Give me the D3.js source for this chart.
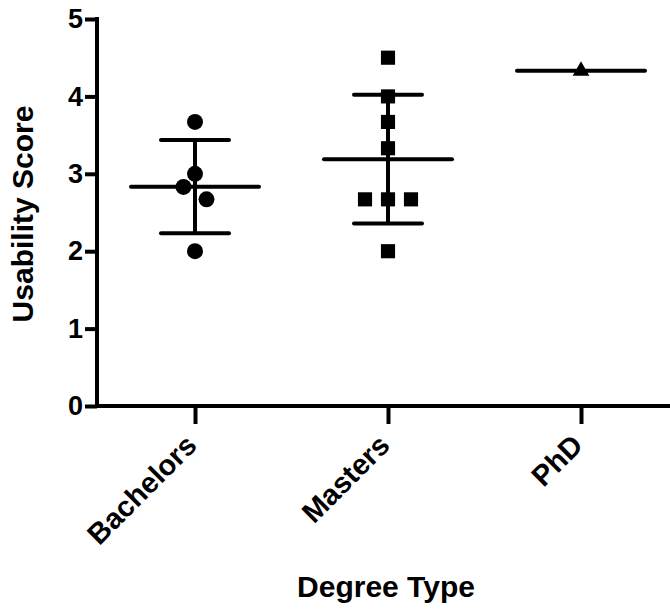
<!DOCTYPE html>
<html>
<head>
<meta charset="utf-8">
<script src="https://cdn.jsdelivr.net/npm/d3@7"></script>
<style>
  body { margin: 0; background: #fff; }
  text { font-family: "Liberation Sans", Arial, sans-serif; font-weight: bold; fill: #000; }
</style>
</head>
<body>
<div id="plot"></div>
<script>
// data
var categories = ["Bachelors", "Masters", "PhD"];
var bachelors = [3.67, 3.0, 2.83, 2.67, 2.0];
var masters = [4.5, 4.0, 3.67, 3.33, 2.67, 2.67, 2.67, 2.0];
var phd = [4.33];
// side-by-side slot of each point (for overlapping values)
var bachelorsSlot = [0, 0, -0.5, 0.5, 0];
var mastersSlot = [0, 0, 0, 0, -1, 0, 1, 0];
var phdSlot = [0];
var yTicks = [0, 1, 2, 3, 4, 5];

var groups = [
  { name: categories[0], values: bachelors, slots: bachelorsSlot, shape: d3.symbolCircle },
  { name: categories[1], values: masters, slots: mastersSlot, shape: d3.symbolSquare },
  { name: categories[2], values: phd, slots: phdSlot, shape: d3.symbolTriangle }
];

var margin = { top: 19, right: 0, bottom: 203, left: 97 };
var width = 670 - margin.left - margin.right,
  height = 609 - margin.top - margin.bottom;

var xScale = d3.scalePoint()
  .domain(categories)
  .range([98, 484]);

var yScale = d3.scaleLinear()
  .domain([0, 5])
  .range([height, 0]);

var svg = d3.select("#plot").append("svg")
  .attr("width", 670)
  .attr("height", 609);

var g = svg.append("g")
  .attr("transform", "translate(" + margin.left + "," + margin.top + ")");

// y axis
var yAxis = g.append("g")
  .call(d3.axisLeft(yScale).tickValues(yTicks).tickSize(12).tickPadding(2).tickFormat(d3.format("d")));
yAxis.select(".domain").remove();
yAxis.selectAll(".tick line").attr("stroke", "#000").attr("stroke-width", 4);
yAxis.selectAll(".tick text").style("font-size", "27px").attr("fill", "#000");
g.append("line")
  .attr("x1", 0).attr("x2", 0)
  .attr("y1", -2).attr("y2", height + 2)
  .attr("stroke", "#000").attr("stroke-width", 4);

// x axis
var xAxis = g.append("g")
  .attr("transform", "translate(0," + height + ")")
  .call(d3.axisBottom(xScale).tickSize(18).tickPadding(0));
xAxis.select(".domain").remove();
xAxis.selectAll(".tick line").attr("stroke", "#000").attr("stroke-width", 4);
xAxis.selectAll(".tick text")
  .style("font-size", "29px")
  .attr("fill", "#000")
  .attr("text-anchor", "end")
  .attr("y", 0)
  .attr("dy", 0)
  .attr("transform", "translate(3,41) rotate(-45)");
g.append("line")
  .attr("x1", -2).attr("x2", width)
  .attr("y1", height).attr("y2", height)
  .attr("stroke", "#000").attr("stroke-width", 4);

// mean and SD bars
var meanHalf = 64, capHalf = 34, slotUnit = 23;

groups.forEach(function (grp) {
  var cx = xScale(grp.name);
  var m = d3.mean(grp.values);
  var sd = grp.values.length > 1 ? d3.deviation(grp.values) : 0;

  if (sd > 0) {
    g.append("line")
      .attr("x1", cx).attr("x2", cx)
      .attr("y1", yScale(m + sd)).attr("y2", yScale(m - sd))
      .attr("stroke", "#000").attr("stroke-width", 4);
    [m + sd, m - sd].forEach(function (v) {
      g.append("line")
        .attr("x1", cx - capHalf).attr("x2", cx + capHalf)
        .attr("y1", yScale(v)).attr("y2", yScale(v))
        .attr("stroke", "#000").attr("stroke-width", 4)
        .attr("stroke-linecap", "round");
    });
  }
  g.append("line")
    .attr("x1", cx - meanHalf).attr("x2", cx + meanHalf)
    .attr("y1", yScale(m)).attr("y2", yScale(m))
    .attr("stroke", "#000").attr("stroke-width", 4)
    .attr("stroke-linecap", "round");

  var sym = d3.symbol().type(grp.shape).size(grp.shape === d3.symbolTriangle ? 120 : 200);
  g.selectAll(null)
    .data(grp.values)
    .enter().append("path")
    .attr("d", sym)
    .attr("fill", "#000")
    .attr("transform", function (d, i) {
      return "translate(" + (cx + grp.slots[i] * slotUnit) + "," + yScale(d) + ")";
    });
});

// axis titles
svg.append("text")
  .attr("transform", "translate(33,214) rotate(-90)")
  .attr("text-anchor", "middle")
  .style("font-size", "30px")
  .text("Usability Score");

svg.append("text")
  .attr("x", 386)
  .attr("y", 597)
  .attr("text-anchor", "middle")
  .style("font-size", "30px")
  .text("Degree Type");
</script>
</body>
</html>
